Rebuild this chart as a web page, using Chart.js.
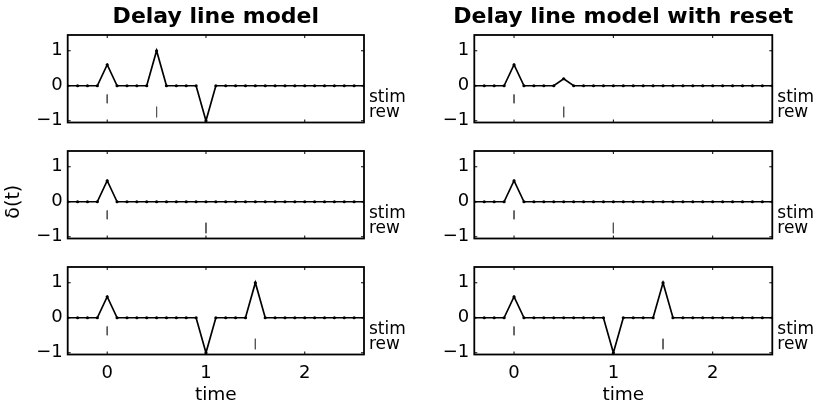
<!DOCTYPE html>
<html>
<head>
<meta charset="utf-8">
<script src="https://cdn.jsdelivr.net/npm/chart.js@4/dist/chart.umd.min.js"></script>
<style>
  html, body { margin: 0; padding: 0; background: #fff; }
  #fig { position: relative; width: 817px; height: 409px; }
  #fig canvas { position: absolute; left: 0; top: 0; }
</style>
</head>
<body>
<div id="fig"></div>
<script>
// time axis samples (every 0.1)
const times = [-0.4, -0.3, -0.2, -0.1, 0, 0.1, 0.2, 0.3, 0.4, 0.5, 0.6, 0.7, 0.8, 0.9, 1, 1.1,
               1.2, 1.3, 1.4, 1.5, 1.6, 1.7, 1.8, 1.9, 2, 2.1, 2.2, 2.3, 2.4, 2.5, 2.6];

// delta(t) per panel
const delayTop    = [0, 0, 0, 0, 0.6, 0, 0, 0, 0, 1, 0, 0, 0, 0, -1, 0, 0, 0, 0, 0, 0, 0, 0, 0, 0, 0, 0, 0, 0, 0, 0];
const resetTop    = [0, 0, 0, 0, 0.6, 0, 0, 0, 0, 0.2, 0, 0, 0, 0, 0, 0, 0, 0, 0, 0, 0, 0, 0, 0, 0, 0, 0, 0, 0, 0, 0];
const delayMid    = [0, 0, 0, 0, 0.6, 0, 0, 0, 0, 0, 0, 0, 0, 0, 0, 0, 0, 0, 0, 0, 0, 0, 0, 0, 0, 0, 0, 0, 0, 0, 0];
const resetMid    = [0, 0, 0, 0, 0.6, 0, 0, 0, 0, 0, 0, 0, 0, 0, 0, 0, 0, 0, 0, 0, 0, 0, 0, 0, 0, 0, 0, 0, 0, 0, 0];
const delayBottom = [0, 0, 0, 0, 0.6, 0, 0, 0, 0, 0, 0, 0, 0, 0, -1, 0, 0, 0, 0, 1, 0, 0, 0, 0, 0, 0, 0, 0, 0, 0, 0];
const resetBottom = [0, 0, 0, 0, 0.6, 0, 0, 0, 0, 0, 0, 0, 0, 0, -1, 0, 0, 0, 0, 1, 0, 0, 0, 0, 0, 0, 0, 0, 0, 0, 0];

// stimulus / reward times per row
const stimTimes = [[0], [0], [0]];
const rewTimes  = [[0.5], [1], [1.5]];

const xTicks = [0, 1, 2];
const xTickLabels = ["0", "1", "2"];
const yTicks = [-1, 0, 1];
const yTickLabels = ["\u22121", "0", "1"];
const titles = ["Delay line model", "Delay line model with reset"];

const FONT = '"DejaVu Sans", sans-serif';
const W = 817, H = 409;

// chart area boxes (pixels)
const colBox = [{ left: 67.7, right: 364 }, { left: 474.3, right: 772.3 }];
const rowBox = [{ top: 35, bottom: 122.5 }, { top: 151, bottom: 238.5 }, { top: 267, bottom: 354.5 }];

const frame = {
  id: "frame",
  afterDraw(chart, args, opts) {
    const { ctx, chartArea: a, scales: { x, y } } = chart;
    ctx.save();
    ctx.strokeStyle = "#000";
    ctx.lineWidth = 1.8;
    ctx.strokeRect(a.left, a.top, a.right - a.left, a.bottom - a.top);
    ctx.lineWidth = 1;
    ctx.beginPath();
    xTicks.forEach(v => {
      const px = x.getPixelForValue(v);
      ctx.moveTo(px, a.bottom); ctx.lineTo(px, a.bottom - 3);
      ctx.moveTo(px, a.top); ctx.lineTo(px, a.top + 3);
    });
    yTicks.forEach(v => {
      const py = y.getPixelForValue(v);
      ctx.moveTo(a.left, py); ctx.lineTo(a.left + 3, py);
      ctx.moveTo(a.right, py); ctx.lineTo(a.right - 3, py);
    });
    ctx.stroke();

    ctx.fillStyle = "#000";
    ctx.font = "17px " + FONT;
    ctx.textAlign = "left";
    ctx.textBaseline = "alphabetic";
    ctx.fillText("stim", a.right + 5, y.getPixelForValue(-0.46));
    ctx.fillText("rew", a.right + 5, y.getPixelForValue(-0.88));

    if (opts.title) {
      ctx.font = "bold 22px " + FONT;
      ctx.textAlign = "center";
      ctx.textBaseline = "middle";
      ctx.fillText(opts.title, (a.left + a.right) / 2, 17.5);
    }

    if (opts.ylabel) {
      ctx.translate(14, 201.7);
      ctx.rotate(-Math.PI / 2);
      ctx.textAlign = "center";
      ctx.textBaseline = "middle";
      ctx.font = "19px " + FONT;
      ctx.fillText(opts.ylabel, 0, 0);
    }
    ctx.restore();
  }
};

function markSet(t, y0, y1) {
  return {
    data: [{ x: t, y: y0 }, { x: t, y: y1 }],
    borderColor: "#555", borderWidth: 1, pointRadius: 0
  };
}

function makePanel(row, col, values) {
  const canvas = document.createElement("canvas");
  canvas.width = W; canvas.height = H;
  document.getElementById("fig").appendChild(canvas);

  const c = colBox[col], r = rowBox[row];
  const isBottom = row === 2;
  const wy = col === 0 ? c.left : 60;
  const hx = isBottom ? 52 : 0;

  const datasets = [{
    data: times.map((t, i) => ({ x: t, y: values[i] })),
    borderColor: "#000", backgroundColor: "#000",
    borderWidth: 1.7, pointRadius: 1.6, pointBorderWidth: 0
  }];
  stimTimes[row].forEach(t => datasets.push(markSet(t, -0.25, -0.5)));
  rewTimes[row].forEach(t => datasets.push(markSet(t, -0.6, -0.9)));

  new Chart(canvas, {
    type: "line",
    data: { datasets },
    plugins: [frame],
    options: {
      responsive: false,
      animation: false,
      events: [],
      layout: {
        padding: {
          left: c.left - wy,
          right: W - c.right,
          top: r.top,
          bottom: H - r.bottom - hx
        }
      },
      plugins: {
        legend: { display: false },
        tooltip: { enabled: false },
        frame: {
          title: row === 0 ? titles[col] : null,
          ylabel: (row === 1 && col === 0) ? "\u03b4(t)" : null
        }
      },
      scales: {
        x: {
          type: "linear", min: -0.4, max: 2.6,
          afterBuildTicks: s => { s.ticks = xTicks.map(v => ({ value: v })); },
          afterFit: s => { s.height = hx; },
          grid: { display: false, drawTicks: false },
          border: { display: false },
          ticks: {
            display: isBottom, padding: 8, color: "#000", maxRotation: 0,
            font: { family: FONT, size: 18 },
            callback: (v, i) => xTickLabels[i]
          },
          title: {
            display: isBottom, text: "time", color: "#000", padding: 0,
            font: { family: FONT, size: 18.5 }
          }
        },
        y: {
          type: "linear", min: -1.05, max: 1.45,
          afterBuildTicks: s => { s.ticks = yTicks.map(v => ({ value: v })); },
          afterFit: s => { s.width = wy; },
          grid: { display: false, drawTicks: false },
          border: { display: false },
          ticks: {
            padding: 5, color: "#000",
            font: { family: FONT, size: 18 },
            callback: (v, i) => yTickLabels[i]
          }
        }
      }
    }
  });
}

makePanel(0, 0, delayTop);
makePanel(0, 1, resetTop);
makePanel(1, 0, delayMid);
makePanel(1, 1, resetMid);
makePanel(2, 0, delayBottom);
makePanel(2, 1, resetBottom);
</script>
</body>
</html>
